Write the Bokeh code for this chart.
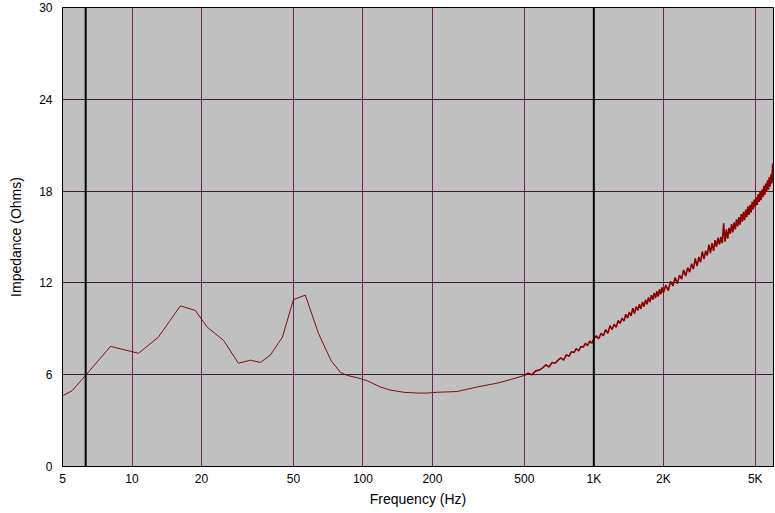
from bokeh.plotting import figure
from bokeh.models import FixedTicker, CustomJSTickFormatter, Span, Range1d
from bokeh.embed import file_html
from bokeh.resources import INLINE

# ---- data ----
freq_lo = [5.0, 5.05, 5.5, 6.29, 8.07, 10.67, 13.0, 16.2, 18.8, 21.2, 24.9, 28.9, 32.6,
           36.0, 39.8, 44.8, 50.0, 56.3, 64.2, 72.4, 73.8, 79.9, 85.7, 94.6, 104.5,
           119, 131, 150, 172, 190, 210, 256, 313, 382, 440, 500]
z_lo = [4.6, 4.65, 4.95, 5.95, 7.85, 7.4, 8.45, 10.5, 10.2, 9.1, 8.25, 6.75, 6.95,
        6.8, 7.3, 8.45, 10.9, 11.2, 8.7, 7.0, 6.8, 6.15, 5.95, 5.8, 5.6,
        5.2, 5.0, 4.85, 4.8, 4.8, 4.85, 4.9, 5.2, 5.45, 5.7, 5.95]

freq_mid = [500, 520, 540, 560, 580, 600, 620, 640, 660, 680, 700, 720, 740, 760, 780,
            800, 820, 840, 860, 880, 900, 920, 940, 960, 980, 1000,
            1025, 1050, 1075, 1100, 1125, 1150, 1175, 1200, 1225, 1250, 1275, 1300,
            1325, 1350, 1375, 1400, 1425, 1450, 1475, 1500, 1525, 1550, 1575, 1600,
            1625, 1650, 1675, 1700, 1725, 1750, 1775, 1800, 1825, 1850, 1875, 1900,
            1925, 1950, 1975, 2000]
z_mid = [5.95, 6.1, 6.0, 6.25, 6.3, 6.45, 6.65, 6.5, 6.8, 6.75, 6.95, 7.1, 6.95, 7.3, 7.2,
         7.5, 7.45, 7.7, 7.55, 7.85, 7.8, 8.05, 7.9, 8.2, 8.05, 8.35,
         8.55, 8.35, 8.7, 8.55, 8.95, 8.7, 9.2, 8.95, 9.3, 9.1, 9.55, 9.35,
         9.7, 9.5, 9.95, 9.7, 10.1, 9.85, 10.35, 10.0, 10.45, 10.2, 10.6, 10.3,
         10.75, 10.45, 10.9, 10.6, 11.05, 10.75, 11.2, 10.9, 11.35, 11.0, 11.45, 11.1,
         11.6, 11.25, 11.7, 11.35]

freq_hi = [2050, 2100, 2150, 2200, 2250, 2300, 2350, 2400, 2450, 2500, 2550, 2600, 2650,
           2700, 2750, 2800, 2850, 2900, 2950, 3000, 3050, 3100, 3150, 3200, 3250, 3300,
           3350, 3400, 3450, 3500, 3550, 3600, 3650, 3700, 3750, 3800, 3850, 3900, 3950,
           4000, 4050, 4100, 4150, 4200, 4250, 4300, 4350, 4400, 4450, 4500, 4550, 4600,
           4650, 4700, 4750, 4800, 4850, 4900, 4950, 5000, 5050, 5100, 5150, 5200, 5250,
           5300, 5350, 5400, 5450, 5500, 5550, 5600, 5650, 5700, 5750, 5800, 5850, 5900,
           5950, 6000]
z_hi = [11.85, 11.5, 12.1, 11.8, 12.35, 11.95, 12.5, 12.25, 12.85, 12.45, 13.0, 12.7, 13.25,
        12.9, 13.6, 13.1, 13.7, 13.35, 14.05, 13.55, 14.1, 13.8, 14.5, 13.95, 14.6, 14.1,
        14.8, 14.35, 14.95, 14.5, 15.0, 14.6, 15.9, 14.7, 15.5, 14.9, 15.6, 15.2, 15.85,
        15.3, 15.95, 15.5, 16.15, 15.7, 16.3, 15.8, 16.5, 16.0, 16.65, 16.1, 16.8, 16.3,
        17.0, 16.45, 17.1, 16.6, 17.3, 16.8, 17.45, 16.95, 17.6, 17.1, 17.8, 17.3, 17.95,
        17.4, 18.1, 17.6, 18.35, 17.75, 18.5, 17.95, 18.7, 18.1, 18.9, 18.3, 19.1, 18.5,
        19.8, 18.7]

x_ticks = [5, 10, 20, 50, 100, 200, 500, 1000, 2000, 5000]
y_ticks = [0, 6, 12, 18, 24, 30]
marker_freqs = [6.3, 1000]

FONT = "Liberation Sans"

p = figure(x_axis_type="log",
           x_range=Range1d(5, 6000), y_range=Range1d(0, 30),
           output_backend="svg", toolbar_location=None,
           frame_width=711, frame_height=459,
           min_border_left=62, min_border_right=2, min_border_top=7, min_border_bottom=46)

p.background_fill_color = "#C0C0C0"
p.border_fill_color = "white"
p.outline_line_color = "black"
p.outline_line_width = 1

p.xaxis.ticker = FixedTicker(ticks=x_ticks)
p.yaxis.ticker = FixedTicker(ticks=y_ticks)
p.xaxis.formatter = CustomJSTickFormatter(code="""
    const t = Math.round(tick);
    return t >= 1000 ? (t / 1000) + 'K' : String(t);
""")

p.xgrid.grid_line_color = "#6e2454"
p.xgrid.grid_line_width = 1
p.ygrid.grid_line_color = "#3a1c2c"
p.ygrid.grid_line_width = 1

for ax in (p.xaxis, p.yaxis):
    ax.major_tick_out = 0
    ax.major_tick_in = 0
    ax.minor_tick_out = 0
    ax.minor_tick_in = 0
    ax.axis_line_color = "black"
    ax.major_label_text_font = FONT
    ax.major_label_text_font_size = "12px"
    ax.major_label_text_color = "black"
    ax.axis_label_text_font = FONT
    ax.axis_label_text_font_size = "14px"
    ax.axis_label_text_font_style = "normal"
    ax.axis_label_text_color = "black"

p.xaxis.axis_label = "Frequency (Hz)"
p.yaxis.axis_label = "Impedance (Ohms)"
p.xaxis.major_label_standoff = 5
p.xaxis.axis_label_standoff = 2
p.yaxis.major_label_standoff = 10
p.yaxis.axis_label_standoff = 12

for f in marker_freqs:
    p.add_layout(Span(location=f, dimension="height", line_color="black", line_width=2))

p.line(freq_lo, z_lo, line_color="#7a1010", line_width=1)
p.line(freq_mid + freq_hi, z_mid + z_hi, line_color="#8b0000", line_width=1.6)

open("out.html", "w").write(file_html(p, INLINE))
